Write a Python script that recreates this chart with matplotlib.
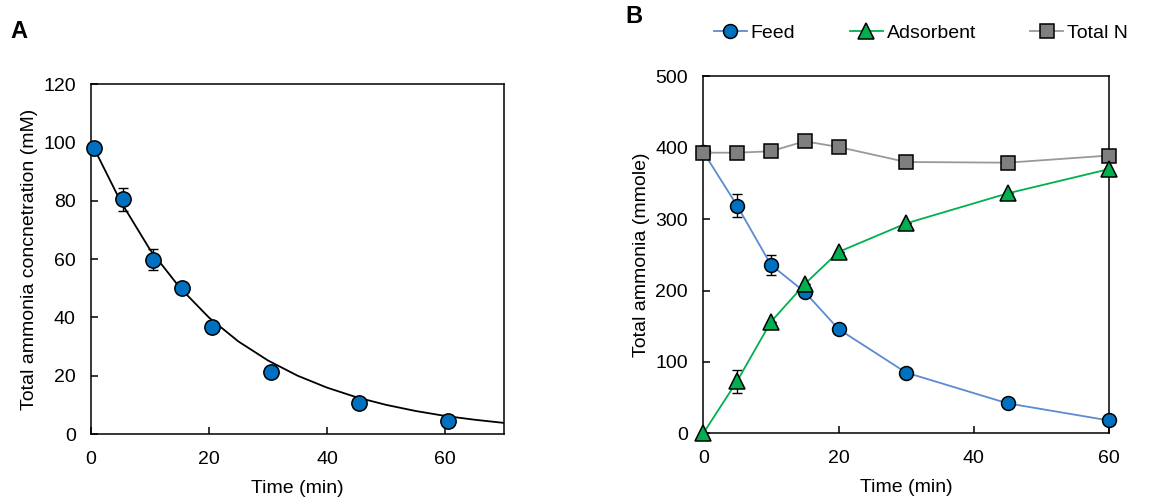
import numpy as np
import matplotlib
matplotlib.use("Agg")
import matplotlib.pyplot as plt

plt.rcParams['font.family'] = ['Liberation Sans', 'DejaVu Sans']
plt.rcParams['font.size'] = 14

# panel A: ammonia concentration in feed
time_a = [0.5, 5.5, 10.5, 15.5, 20.5, 30.5, 45.5, 60.5]
conc_a = [98.2, 80.5, 59.7, 49.9, 36.8, 21.3, 10.5, 4.5]
err_a = [0.8, 4.0, 3.6, 0.8, 0.8, 0.8, 0.8, 2.0]

# fitted curve
fit_t = [0.5, 5, 10, 15, 20, 25, 30, 35, 40, 45, 50, 55, 60, 65, 70]
fit_c = [98.0, 79.8, 63.2, 50.3, 39.9, 31.7, 25.2, 20.0, 15.9, 12.6, 10.0, 7.9, 6.2, 4.9, 3.8]

# panel B: mass balance
time_b = [0, 5, 10, 15, 20, 30, 45, 60]
feed = [394, 319, 236, 198, 146, 85, 42, 18]
feed_err = [0, 16, 14, 0, 0, 0, 0, 0]
adsorbent = [0, 73, 156, 209, 254, 294, 336, 370]
ads_err = [0, 16, 0, 0, 0, 0, 0, 0]
total_n = [393, 393, 395, 409, 401, 380, 379, 389]

fig = plt.figure(figsize=(11.51, 4.98), dpi=100)
axA = fig.add_axes([0.0791, 0.1285, 0.3588, 0.7028])
axB = fig.add_axes([0.6110, 0.1299, 0.3525, 0.7169])

for ax in (axA, axB):
    for s in ax.spines.values():
        s.set_linewidth(1.1)
    ax.tick_params(direction='in', length=5, width=1.1, labelsize=14)
    ax.tick_params(axis='x', pad=12)
    ax.tick_params(axis='y', pad=11)

# ---- A ----
axA.plot(fit_t, fit_c, color='black', lw=1.3, zorder=2)
axA.errorbar(time_a, conc_a, yerr=err_a, fmt='none', ecolor='black', elinewidth=1,
             capsize=3.5, capthick=1, zorder=3)
axA.plot(time_a, conc_a, 'o', ms=11, mfc='#0070C0', mec='black', mew=1.1, zorder=4, clip_on=False)
axA.set_xlim(0, 70)
axA.set_ylim(0, 120)
axA.set_xticks([0, 20, 40, 60])
axA.set_yticks(range(0, 121, 20))
axA.set_xlabel('Time (min)', labelpad=9)
axA.set_ylabel('Total ammonia concnetration (mM)', labelpad=4)

# ---- B ----
axB.errorbar(time_b, feed, yerr=feed_err, fmt='none', ecolor='black', elinewidth=1,
             capsize=3.5, capthick=1, zorder=3)
axB.errorbar(time_b, adsorbent, yerr=ads_err, fmt='none', ecolor='black', elinewidth=1,
             capsize=3.5, capthick=1, zorder=3)
axB.plot(time_b, feed, '-o', color='#5B8BD0', lw=1.3, ms=10, mfc='#0070C0', mec='black',
         mew=1.1, label='Feed', zorder=4, clip_on=False)
axB.plot(time_b, adsorbent, '-^', color='#00B050', lw=1.3, ms=11, mfc='#00B050', mec='black',
         mew=1.1, label='Adsorbent', zorder=5, clip_on=False)
axB.plot(time_b, total_n, '-s', color='#999999', lw=1.3, ms=10, mfc='#7F7F7F', mec='black',
         mew=1.1, label='Total N', zorder=4, clip_on=False)
axB.set_xlim(0, 60)
axB.set_ylim(0, 500)
axB.set_xticks([0, 20, 40, 60])
axB.set_yticks(range(0, 501, 100))
axB.set_xlabel('Time (min)', labelpad=9)
axB.set_ylabel('Total ammonia (mmole)', labelpad=4)

fig.legend(handles=axB.get_lines()[-3:], loc='center', bbox_to_anchor=(0.800, 0.933),
           ncol=3, frameon=False, handlelength=1.7, handletextpad=0.2, columnspacing=2.8,
           fontsize=14)

fig.text(0.009, 0.937, 'A', fontsize=17, fontweight='bold', va='center')
fig.text(0.543, 0.967, 'B', fontsize=17, fontweight='bold', va='center')

fig.savefig('out.png', dpi=100)
